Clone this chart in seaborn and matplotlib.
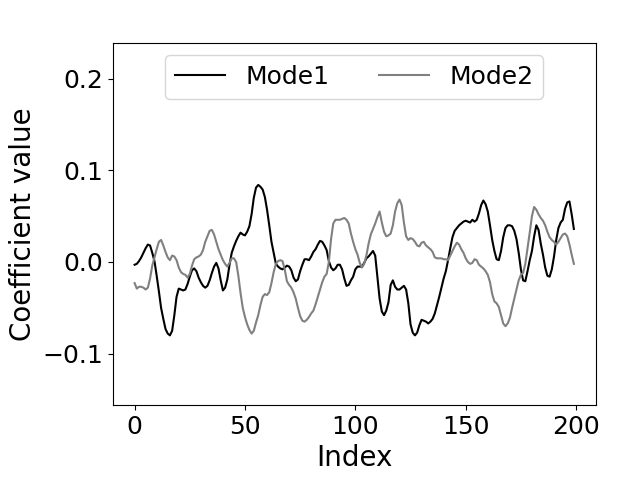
import numpy as np
import pandas as pd
import matplotlib
matplotlib.use("Agg")
import matplotlib.pyplot as plt
import seaborn as sns

# Mode coefficients, one value per index 0..199
mode1 = [
    -0.003, -0.002, 0.001, 0.005, 0.010, 0.015, 0.019, 0.018, 0.010, 0.001,
    -0.015, -0.032, -0.050, -0.062, -0.073, -0.078, -0.080, -0.075, -0.058, -0.038,
    -0.029, -0.030, -0.031, -0.030, -0.024, -0.016, -0.009, -0.007, -0.010, -0.017,
    -0.022, -0.026, -0.028, -0.026, -0.020, -0.012, -0.005, -0.001, -0.007, -0.020,
    -0.031, -0.028, -0.019, -0.003, 0.010, 0.017, 0.023, 0.028, 0.032, 0.030,
    0.029, 0.033, 0.039, 0.052, 0.070, 0.081, 0.084, 0.082, 0.079, 0.071,
    0.057, 0.040, 0.022, 0.010, -0.002, -0.005, -0.007, -0.008, -0.006, -0.004,
    -0.005, -0.009, -0.017, -0.021, -0.019, -0.010, -0.003, 0.003, 0.003, 0.002,
    0.006, 0.011, 0.014, 0.019, 0.023, 0.022, 0.018, 0.013, 0.001, -0.006,
    -0.009, -0.007, -0.003, -0.003, -0.008, -0.018, -0.026, -0.025, -0.020, -0.016,
    -0.008, -0.005, -0.005, -0.005, -0.001, 0.004, 0.006, 0.009, 0.012, 0.007,
    -0.017, -0.040, -0.054, -0.058, -0.053, -0.044, -0.025, -0.020, -0.027, -0.030,
    -0.030, -0.028, -0.026, -0.030, -0.045, -0.068, -0.077, -0.080, -0.077, -0.069,
    -0.063, -0.064, -0.065, -0.067, -0.065, -0.062, -0.056, -0.047, -0.038, -0.028,
    -0.018, -0.010, 0.002, 0.015, 0.027, 0.034, 0.037, 0.040, 0.042, 0.044,
    0.045, 0.044, 0.043, 0.046, 0.044, 0.046, 0.053, 0.062, 0.067, 0.063,
    0.055, 0.040, 0.024, 0.012, 0.003, 0.002, 0.012, 0.027, 0.037, 0.040,
    0.040, 0.039, 0.034, 0.025, 0.010, -0.008, -0.020, -0.021, -0.010, 0.002,
    0.012, 0.028, 0.040, 0.035, 0.020, 0.008, -0.006, -0.015, -0.016, -0.008,
    0.006, 0.024, 0.037, 0.043, 0.046, 0.058, 0.065, 0.066, 0.052, 0.036,
]

mode2 = [
    -0.023, -0.029, -0.027, -0.027, -0.028, -0.030, -0.028, -0.018, -0.004, 0.005,
    0.014, 0.022, 0.024, 0.018, 0.011, 0.005, 0.002, 0.007, 0.006, 0.002,
    -0.006, -0.011, -0.013, -0.014, -0.017, -0.013, -0.004, 0.003, 0.005, 0.006,
    0.008, 0.013, 0.022, 0.028, 0.034, 0.035, 0.030, 0.022, 0.014, 0.008,
    0.002, -0.002, -0.005, -0.001, 0.004, 0.004, 0.000, -0.015, -0.034, -0.050,
    -0.060, -0.068, -0.074, -0.078, -0.075, -0.066, -0.058, -0.047, -0.038, -0.035,
    -0.036, -0.033, -0.023, -0.011, -0.002, 0.001, 0.002, 0.001, -0.008, -0.021,
    -0.025, -0.028, -0.033, -0.040, -0.050, -0.059, -0.064, -0.065, -0.063, -0.060,
    -0.056, -0.053, -0.046, -0.038, -0.030, -0.022, -0.016, -0.013, 0.000, 0.025,
    0.042, 0.046, 0.046, 0.046, 0.047, 0.048, 0.046, 0.042, 0.031, 0.022,
    0.014, 0.008, -0.001, -0.006, -0.002, 0.007, 0.020, 0.030, 0.036, 0.042,
    0.049, 0.055, 0.043, 0.033, 0.028, 0.029, 0.031, 0.040, 0.055, 0.064,
    0.068, 0.062, 0.043, 0.028, 0.024, 0.026, 0.025, 0.022, 0.018, 0.017,
    0.021, 0.022, 0.018, 0.016, 0.014, 0.011, 0.005, 0.004, 0.004, 0.004,
    0.003, 0.003, 0.002, 0.007, 0.012, 0.017, 0.021, 0.019, 0.014, 0.010,
    0.004, 0.000, -0.002, -0.001, 0.003, 0.002, -0.003, -0.005, -0.007, -0.010,
    -0.014, -0.022, -0.035, -0.043, -0.045, -0.049, -0.058, -0.067, -0.070, -0.067,
    -0.061, -0.050, -0.040, -0.030, -0.020, -0.014, -0.012, -0.002, 0.015, 0.032,
    0.050, 0.060, 0.057, 0.052, 0.048, 0.045, 0.040, 0.033, 0.027, 0.024,
    0.022, 0.019, 0.022, 0.026, 0.030, 0.031, 0.028, 0.019, 0.008, -0.002,
]

series_names = ["Mode1", "Mode2"]
series_colors = ["black", "gray"]

index = np.arange(len(mode1))
df = pd.DataFrame({
    "Index": np.concatenate([index, index]),
    "Coefficient value": mode1 + mode2,
    "Mode": [series_names[0]] * len(mode1) + [series_names[1]] * len(mode2),
})

fig, ax = plt.subplots(figsize=(6.4, 4.8), dpi=100)
sns.lineplot(data=df, x="Index", y="Coefficient value", hue="Mode",
             palette=dict(zip(series_names, series_colors)), linewidth=1.5, ax=ax)

ax.set_ylim(-0.156, 0.239)
ax.set_yticks([-0.1, 0.0, 0.1, 0.2])
ax.set_xticks([0, 50, 100, 150, 200])
ax.set_xlabel("Index", fontsize=20)
ax.set_ylabel("Coefficient value", fontsize=20)
ax.tick_params(labelsize=18)

handles, labels = ax.get_legend_handles_labels()
ax.legend(handles, labels, loc="upper center", ncol=2, fontsize=18)

fig.subplots_adjust(left=0.176, right=0.931, bottom=0.156, top=0.911)
fig.savefig("out.png")
